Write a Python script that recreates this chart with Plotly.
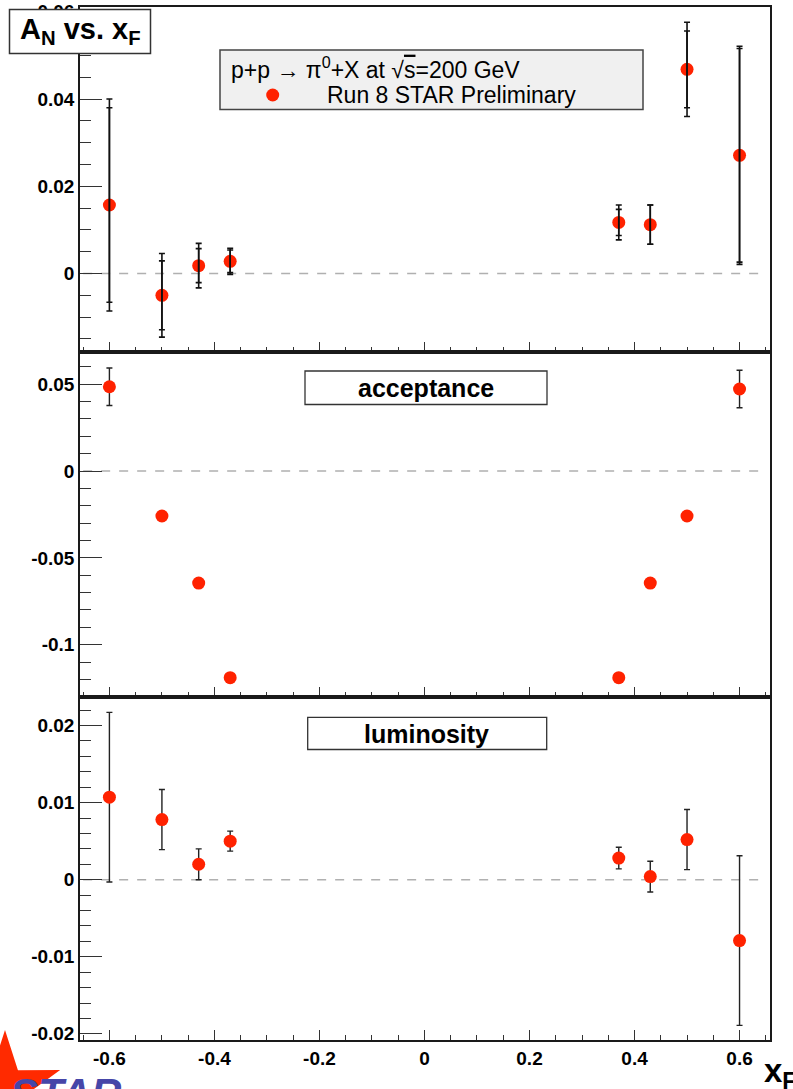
import math
import plotly.graph_objects as go
from plotly.subplots import make_subplots

# ---------------- data ----------------
x_f = [-0.6, -0.5, -0.43, -0.37, 0.37, 0.43, 0.5, 0.6]

an_vals = [0.0157, -0.0050, 0.0018, 0.0028, 0.0117, 0.0112, 0.0468, 0.0271]
an_stat = [0.0223, 0.0079, 0.0039, 0.0026, 0.0030, 0.0045, 0.0088, 0.0245]
an_total = [0.0243, 0.0096, 0.0051, 0.0030, 0.0040, 0.0045, 0.0108, 0.0250]

acc_vals = [0.0485, -0.0259, -0.0645, -0.1190, -0.1190, -0.0645, -0.0259, 0.0472]
acc_err = [0.0108, 0.0008, 0.0008, 0.0008, 0.0008, 0.0008, 0.0008, 0.0108]

lum_vals = [0.0107, 0.0078, 0.0020, 0.0050, 0.0028, 0.0004, 0.0052, -0.0079]
lum_err = [0.0110, 0.0039, 0.0020, 0.0013, 0.0014, 0.0020, 0.0039, 0.0110]

x_tickvals = [-0.6, -0.4, -0.2, 0, 0.2, 0.4, 0.6]
x_ticktext = ["-0.6", "-0.4", "-0.2", "0", "0.2", "0.4", "0.6"]
y1_tickvals = [0, 0.02, 0.04, 0.06]
y1_ticktext = ["0", "0.02", "0.04", "0.06"]
y2_tickvals = [-0.1, -0.05, 0, 0.05]
y2_ticktext = ["-0.1", "-0.05", "0", "0.05"]
y3_tickvals = [-0.02, -0.01, 0, 0.01, 0.02]
y3_ticktext = ["-0.02", "-0.01", "0", "0.01", "0.02"]

# ---------------- layout geometry ----------------
W, H = 793, 1089
L, R, T, B = 80, 23, 7, 49
PW, PH = W - L - R, H - T - B


def px(x):
    return (x - L) / PW


def py(y):
    return (H - B - y) / PH


RED = "#ff2200"
FONT = "Liberation Sans"

fig = make_subplots(rows=3, cols=1, shared_xaxes=True, vertical_spacing=0)

# top panel: markers then error bars (bars drawn over markers)
fig.add_trace(go.Scatter(x=x_f, y=an_vals, mode="markers",
                         marker=dict(color=RED, size=13, line=dict(width=0))), row=1, col=1)
fig.add_trace(go.Scatter(x=x_f, y=an_vals, mode="markers",
                         marker=dict(size=1, color="rgba(0,0,0,0)"),
                         error_y=dict(type="data", array=an_total, color="#111", thickness=1.6, width=3)),
              row=1, col=1)
fig.add_trace(go.Scatter(x=x_f, y=an_vals, mode="markers",
                         marker=dict(size=1, color="rgba(0,0,0,0)"),
                         error_y=dict(type="data", array=an_stat, color="#111", thickness=1.6, width=3)),
              row=1, col=1)

# middle panel
fig.add_trace(go.Scatter(x=x_f, y=acc_vals, mode="markers",
                         marker=dict(size=1, color="rgba(0,0,0,0)"),
                         error_y=dict(type="data", array=acc_err, color="#222", thickness=1.4, width=3)),
              row=2, col=1)
fig.add_trace(go.Scatter(x=x_f, y=acc_vals, mode="markers",
                         marker=dict(color=RED, size=13, line=dict(width=0))), row=2, col=1)

# bottom panel
fig.add_trace(go.Scatter(x=x_f, y=lum_vals, mode="markers",
                         marker=dict(size=1, color="rgba(0,0,0,0)"),
                         error_y=dict(type="data", array=lum_err, color="#222", thickness=1.4, width=3)),
              row=3, col=1)
fig.add_trace(go.Scatter(x=x_f, y=lum_vals, mode="markers",
                         marker=dict(color=RED, size=13, line=dict(width=0))), row=3, col=1)

tickfont = dict(family=FONT, size=19, color="black", weight="bold")
axis_common = dict(showline=True, mirror=True, linecolor="#1a1a1a", linewidth=1.5,
                   showgrid=False, zeroline=False, ticks="inside", tickcolor="#333",
                   tickwidth=1.3, tickfont=tickfont, automargin=False)

xrange_ = [-0.656, 0.658]
for i in range(1, 4):
    fig.update_xaxes(row=i, col=1, range=xrange_, tickmode="array", tickvals=x_tickvals,
                     ticktext=x_ticktext, ticklen=10,
                     minor=dict(tickmode="linear", tick0=0, dtick=0.05, ticks="inside",
                                ticklen=5, tickcolor="#333", tickwidth=1.3),
                     showticklabels=(i == 3), **axis_common)

y_specs = [
    (1, [-0.0180, 0.0611], y1_tickvals, y1_ticktext, 0.005, [py(352), 1.0]),
    (2, [-0.1301, 0.0685], y2_tickvals, y2_ticktext, 0.01, [py(697), py(352)]),
    (3, [-0.0208, 0.0237], y3_tickvals, y3_ticktext, 0.002, [0.0, py(697)]),
]
for row, rng, tv, tt, mdt, dom in y_specs:
    fig.update_yaxes(row=row, col=1, range=rng, tickmode="array", tickvals=tv, ticktext=tt,
                     ticklen=22, domain=dom,
                     minor=dict(tickmode="linear", tick0=0, dtick=mdt, ticks="inside",
                                ticklen=11, tickcolor="#333", tickwidth=1.3),
                     **axis_common)

shapes = []
annotations = []

# zero dashed lines
for xr, yr in [("x", "y"), ("x2", "y2"), ("x3", "y3")]:
    shapes.append(dict(type="line", xref=xr, yref=yr, x0=-0.65, x1=0.645, y0=0, y1=0,
                       line=dict(color="#b0b0b0", width=1.5, dash="dash"), layer="below"))

# title box
shapes.append(dict(type="rect", xref="paper", yref="paper", x0=px(9.5), x1=px(150.5),
                   y0=py(53.5), y1=py(9.5), fillcolor="white",
                   line=dict(color="#333", width=1.5), layer="above"))
annotations.append(dict(xref="paper", yref="paper", x=px(80), y=py(31), xanchor="center",
                        yanchor="middle", showarrow=False,
                        text="A<sub>N</sub> vs. x<sub>F</sub>",
                        font=dict(family=FONT, size=29, color="black", weight="bold")))

# legend box
shapes.append(dict(type="rect", xref="paper", yref="paper", x0=px(220), x1=px(643),
                   y0=py(109.5), y1=py(50), fillcolor="#f0f0f0",
                   line=dict(color="#444", width=1.5), layer="above"))
annotations.append(dict(xref="paper", yref="paper", x=px(229), y=py(68), xanchor="left",
                        yanchor="middle", showarrow=False,
                        text="p+p \u2192 \u03c0<sup>0</sup>+X at \u221a<span style='text-decoration:overline'>s</span>=200 GeV",
                        font=dict(family=FONT, size=23, color="black")))
shapes.append(dict(type="circle", xref="paper", yref="paper", x0=px(266.2), x1=px(279.2),
                   y0=py(101.5), y1=py(88.5), fillcolor=RED, line=dict(width=0), layer="above"))
annotations.append(dict(xref="paper", yref="paper", x=px(325), y=py(95), xanchor="left",
                        yanchor="middle", showarrow=False, text="Run 8 STAR Preliminary",
                        font=dict(family=FONT, size=23, color="black")))

# acceptance box
shapes.append(dict(type="rect", xref="paper", yref="paper", x0=px(305), x1=px(547),
                   y0=py(404.5), y1=py(371), fillcolor="white",
                   line=dict(color="#333", width=1.3), layer="above"))
annotations.append(dict(xref="paper", yref="paper", x=px(426), y=py(388), xanchor="center",
                        yanchor="middle", showarrow=False, text="acceptance",
                        font=dict(family=FONT, size=25, color="black", weight="bold")))

# luminosity box
shapes.append(dict(type="rect", xref="paper", yref="paper", x0=px(307.7), x1=px(546.7),
                   y0=py(749.5), y1=py(717.3), fillcolor="white",
                   line=dict(color="#333", width=1.3), layer="above"))
annotations.append(dict(xref="paper", yref="paper", x=px(427), y=py(733.5), xanchor="center",
                        yanchor="middle", showarrow=False, text="luminosity",
                        font=dict(family=FONT, size=25, color="black", weight="bold")))

# x_F axis label
annotations.append(dict(xref="paper", yref="paper", x=px(762), y=py(1050), xanchor="left",
                        yanchor="top", showarrow=False, text="x<sub>F</sub>",
                        font=dict(family=FONT, size=33, color="black", weight="bold")))

# STAR logo (partially visible)
cx, cy, Ro, Ri = 5, 1088, 58, 22
pts = []
for k in range(10):
    ang = math.radians(90 - 36 * k)
    rr = Ro if k % 2 == 0 else Ri
    pts.append((cx + rr * math.cos(ang), cy - rr * math.sin(ang)))
path = "M " + " L ".join(f"{px(a):.5f},{py(b):.5f}" for a, b in pts) + " Z"
shapes.append(dict(type="path", xref="paper", yref="paper", path=path,
                   fillcolor="#ff2a00", line=dict(width=0), layer="above"))
annotations.append(dict(xref="paper", yref="paper", x=px(8), y=py(1068), xanchor="left",
                        yanchor="top", showarrow=False, text="<i>STAR</i>",
                        font=dict(family=FONT, size=42, color="#4646a8", weight="bold")))

fig.layout.shapes = shapes
fig.layout.annotations = annotations
fig.update_layout(
    width=W, height=H,
    margin=dict(l=L, r=R, t=T, b=B, autoexpand=False),
    paper_bgcolor="white", plot_bgcolor="white",
    showlegend=False,
)

fig.write_html("out.html")
